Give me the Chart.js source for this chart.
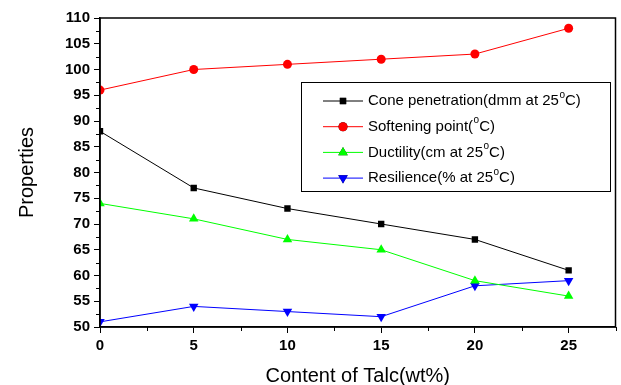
<!DOCTYPE html>
<html>
<head>
<meta charset="utf-8">
<script src="https://cdn.jsdelivr.net/npm/chart.js@4.4.1/dist/chart.umd.min.js"></script>
<style>
  html, body { margin: 0; padding: 0; background: #fff; }
  #wrap { width: 621px; height: 385px; }
</style>
</head>
<body>
<div id="wrap"><canvas id="talcChart" width="621" height="385"></canvas></div>
<script>
// values
const talcContent = [0, 5, 10, 15, 20, 25];
const conePenetration = [88, 77, 73, 70, 67, 61];
const softeningPoint = [96, 100, 101, 102, 103, 108];
const ductility = [74, 71, 67, 65, 59, 56];
const resilience = [51, 54, 53, 52, 58, 59];

const seriesNames = ["Cone penetration(dmm at 25", "Softening point(", "Ductility(cm at 25", "Resilience(% at 25"];
const xTicks = [0, 5, 10, 15, 20, 25];
const yTicks = [50, 55, 60, 65, 70, 75, 80, 85, 90, 95, 100, 105, 110];

const FONT = "'Liberation Sans', Arial, sans-serif";

function toPoints(values) {
    return talcContent.map((x, i) => ({x: x, y: values[i]}));
}

function makeSet(label, values, color, style, radius, rotation) {
    return {
        label: label,
        data: toPoints(values),
        borderColor: color,
        backgroundColor: color,
        borderWidth: 1,
        pointStyle: style,
        pointRadius: radius,
        pointRotation: rotation || 0,
        pointBorderWidth: 0,
        tension: 0
    };
}

// frame on top/right, minor ticks, and the boxed legend inside the plot
const framePlugin = {
    id: 'frame',
    afterDraw(chart) {
        const ctx = chart.ctx;
        const a = chart.chartArea;
        const xs = chart.scales.x, ys = chart.scales.y;
        ctx.save();
        ctx.strokeStyle = '#000';
        ctx.lineWidth = 1.5;
        ctx.strokeRect(a.left, a.top, a.right - a.left, a.bottom - a.top);

        // minor ticks
        ctx.lineWidth = 1;
        ctx.beginPath();
        for (let v = 2.5; v < 27.6; v += 5) {
            const px = Math.round(xs.getPixelForValue(v)) + 0.5;
            ctx.moveTo(px, a.bottom);
            ctx.lineTo(px, a.bottom + 4);
        }
        for (let v = 52.5; v < 110; v += 5) {
            const py = Math.round(ys.getPixelForValue(v)) + 0.5;
            ctx.moveTo(a.left, py);
            ctx.lineTo(a.left - 4, py);
        }
        ctx.stroke();

        // legend
        const box = {x: 301.5, y: 82.5, w: 309, h: 109};
        ctx.lineWidth = 1;
        ctx.strokeRect(box.x, box.y, box.w, box.h);
        chart.data.datasets.forEach((ds, i) => {
            const cy = 101 + i * 25.7;
            ctx.strokeStyle = ds.borderColor;
            ctx.beginPath();
            ctx.moveTo(323, cy);
            ctx.lineTo(363, cy);
            ctx.stroke();
            Chart.helpers.drawPoint(ctx, {
                pointStyle: ds.pointStyle,
                radius: ds.pointRadius,
                rotation: ds.pointRotation,
                borderWidth: 0
            }, 343, cy);
            ctx.fillStyle = ds.borderColor;
            ctx.fill();

            ctx.fillStyle = '#000';
            ctx.textBaseline = 'middle';
            ctx.textAlign = 'left';
            ctx.font = '15px ' + FONT;
            let tx = 368;
            ctx.fillText(ds.label, tx, cy);
            tx += ctx.measureText(ds.label).width;
            ctx.font = '10px ' + FONT;
            ctx.fillText('o', tx + 0.5, cy - 6);
            tx += ctx.measureText('o').width + 0.5;
            ctx.font = '15px ' + FONT;
            ctx.fillText('C)', tx, cy);
        });
        ctx.restore();
    }
};

new Chart(document.getElementById('talcChart'), {
    type: 'line',
    data: {
        datasets: [
            makeSet(seriesNames[0], conePenetration, '#000000', 'rect', 4.5),
            makeSet(seriesNames[1], softeningPoint, '#ff0000', 'circle', 4.5),
            makeSet(seriesNames[2], ductility, '#00ff00', 'triangle', 5.5),
            makeSet(seriesNames[3], resilience, '#0000ff', 'triangle', 5.5, 180)
        ]
    },
    options: {
        responsive: false,
        animation: false,
        layout: {padding: {top: 18, right: 4, left: 0, bottom: 0}},
        plugins: {legend: {display: false}, tooltip: {enabled: false}},
        scales: {
            x: {
                type: 'linear',
                min: 0,
                max: 27.5,
                afterBuildTicks: scale => { scale.ticks = xTicks.map(v => ({value: v})); },
                afterFit: scale => { scale.height = 58; },
                border: {color: '#000', width: 1.5},
                grid: {drawOnChartArea: false, tickLength: 6, tickColor: '#000', tickWidth: 1},
                ticks: {color: '#000', padding: 4, maxRotation: 0, font: {family: FONT, size: 15, weight: 'bold'}},
                title: {display: true, text: 'Content of Talc(wt%)', color: '#000', padding: {top: 0, bottom: -3},
                        font: {family: FONT, size: 20}}
            },
            y: {
                min: 50,
                max: 110,
                afterBuildTicks: scale => { scale.ticks = yTicks.map(v => ({value: v})); },
                afterFit: scale => { scale.width = 100; },
                border: {color: '#000', width: 1.5},
                grid: {drawOnChartArea: false, tickLength: 6, tickColor: '#000', tickWidth: 1},
                ticks: {color: '#000', padding: 4, font: {family: FONT, size: 15, weight: 'bold'}},
                title: {display: true, text: 'Properties', color: '#000', padding: {top: 15, bottom: 0},
                        font: {family: FONT, size: 20}}
            }
        }
    },
    plugins: [framePlugin]
});
</script>
</body>
</html>
